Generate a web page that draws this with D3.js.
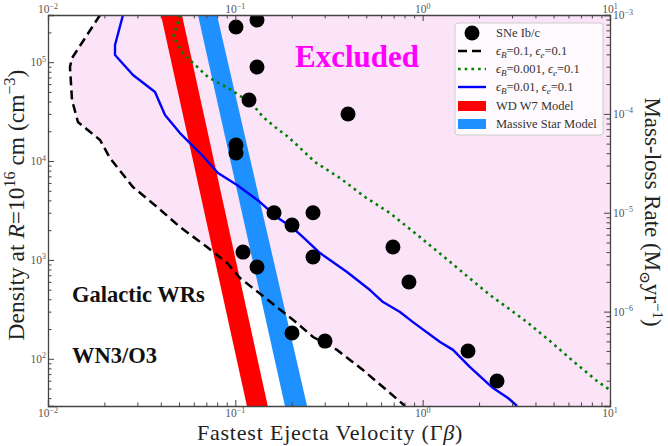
<!DOCTYPE html>
<html><head><meta charset="utf-8">
<script src="https://cdn.jsdelivr.net/npm/d3@7/dist/d3.min.js"></script>
<style>
body{margin:0;background:#fff}
svg{display:block}
text{font-family:"Liberation Serif","DejaVu Serif",serif}
</style>
</head><body>
<svg id="c" width="668" height="446"></svg>
<script>
// ---------- data ----------
const xMajor = [1e-2, 1e-1, 1e0, 1e1];
const xMajorExp = ["−2", "−1", "0", "1"];
const yMajor = [1e2, 1e3, 1e4, 1e5];
const yMajorExp = ["2", "3", "4", "5"];
const y2Major = [1e-6, 1e-5, 1e-4, 1e-3];
const y2MajorExp = ["−6", "−5", "−4", "−3"];

// SNe Ib/c (velocity Γβ, density cm^-3)
const snV   = [0.1008, 0.1305, 0.1305, 0.1183, 0.3995, 0.1008, 0.1008, 0.1609, 0.2007, 0.2598, 0.2598, 0.1099, 0.1305, 0.694, 0.845, 0.2007, 0.301, 1.746, 2.494];
const snRho = [2.27e5, 2.67e5, 8.93e4, 4.14e4, 2.99e4, 1.45e4, 1.205e4, 3.0e3, 2.25e3, 3.0e3, 1.07e3, 1.20e3, 847, 1.35e3, 597, 182, 151, 120, 59.6];

// eps_B=0.1, eps_e=0.1 (dashed)
const dashV   = [0.01896, 0.01343, 0.0131, 0.01343, 0.01445, 0.01896, 0.0214, 0.0284, 0.0382, 0.0507, 0.0706, 0.0903, 0.106, 0.1494, 0.2133, 0.260, 0.349, 0.480, 0.614, 0.805];
const dashRho = [3.0e5, 1.10e5, 8.93e4, 4.14e4, 2.48e4, 1.632e4, 1.073e4, 5.46e3, 3.43e3, 2.15e3, 1.35e3, 930, 656, 393, 230, 166, 123, 76.9, 51.8, 33.3];

// eps_B=0.001, eps_e=0.1 (dotted)
const dotV   = [0.0507, 0.0488, 0.0465, 0.0488, 0.0519, 0.0587, 0.0714, 0.0914, 0.1085, 0.1243, 0.1405, 0.1628, 0.1887, 0.2161, 0.2662, 0.362, 0.4922, 0.669, 0.968, 1.284, 1.725, 2.288, 2.855, 3.606, 4.784, 6.346, 8.524, 10];
const dotRho = [3.0e5, 2.376e5, 1.797e5, 1.562e5, 1.267e5, 1.004e5, 7.08e4, 5.48e4, 4.44e4, 3.69e4, 2.79e4, 2.21e4, 1.79e4, 1.419e4, 9.77e3, 6.73e3, 4.33e3, 2.98e3, 1.70e3, 1.094e3, 687, 441, 326, 235, 151, 94.9, 59.6, 48.3];

// eps_B=0.01, eps_e=0.1 (solid)
const solV   = [0.02514, 0.02279, 0.02279, 0.02843, 0.03726, 0.04213, 0.05064, 0.0609, 0.0648, 0.0808, 0.1021, 0.1354, 0.1690, 0.2032, 0.2298, 0.2831, 0.3946, 0.5235, 0.6142, 0.7568, 0.888, 1.238, 1.452, 1.789, 2.374, 2.855, 3.188];
const solRho = [3.0e5, 1.491e5, 1.181e5, 7.42e4, 4.99e4, 2.92e4, 1.92e4, 1.354e4, 1.205e4, 7.56e3, 5.72e3, 3.85e3, 2.65e3, 2.10e3, 1.70e3, 1.174e3, 754, 496, 375, 297, 235, 148, 123, 82.5, 50.6, 40.1, 33.3];

// model bands: edges at density top / bottom
const bandRho   = [3.0e5, 33.3];
const wdLeftV   = [0.0401, 0.1153];
const wdRightV  = [0.0519, 0.149];
const msLeftV   = [0.0632, 0.184];
const msRightV  = [0.0798, 0.2415];

// ---------- layout ----------
const svg = d3.select("#c");
const L = 48, R = 610, T = 15, B = 406;
const x  = d3.scaleLog().domain([1e-2, 1e1]).range([L, R]);
const y  = d3.scaleLog().domain([33.3, 3.0e5]).range([B, T]);
const y2 = d3.scaleLog().domain([1.11e-7, 1e-3]).range([B, T]);

svg.append("defs").append("clipPath").attr("id", "clip")
  .append("rect").attr("x", L).attr("y", T).attr("width", R - L).attr("height", B - T);

const plot = svg.append("g").attr("clip-path", "url(#clip)");
const line = d3.line().x(d => x(d[0])).y(d => y(d[1]));
const zip = (a, b) => a.map((v, i) => [v, b[i]]);

// excluded region fill
const dMin = y.domain()[0], dMax = y.domain()[1];
const fillPts = zip(dashV, dashRho).concat([[1e1, dMin], [1e1, dMax]]);
plot.append("path").attr("d", line(fillPts) + "Z").attr("fill", "#fbe4f8").attr("stroke", "none");

// bands
function band(lv, rv, col) {
  const pts = [[lv[0], bandRho[0]], [rv[0], bandRho[0]], [rv[1], bandRho[1]], [lv[1], bandRho[1]]];
  plot.append("path").attr("d", line(pts) + "Z").attr("fill", col);
}
band(wdLeftV, wdRightV, "#ff0000");
band(msLeftV, msRightV, "#1e90ff");

// curves
plot.append("path").attr("d", line(zip(solV, solRho))).attr("fill", "none")
  .attr("stroke", "#0000ff").attr("stroke-width", 2.4).attr("stroke-linejoin", "round");
plot.append("path").attr("d", line(zip(dotV, dotRho))).attr("fill", "none")
  .attr("stroke", "#008000").attr("stroke-width", 2.6).attr("stroke-dasharray", "2.6,4.1");
plot.append("path").attr("d", line(zip(dashV, dashRho))).attr("fill", "none")
  .attr("stroke", "#000").attr("stroke-width", 2.5).attr("stroke-dasharray", "9,5");

// points
plot.selectAll("circle.sn").data(zip(snV, snRho)).enter().append("circle")
  .attr("cx", d => x(d[0])).attr("cy", d => y(d[1])).attr("r", 7.5).attr("fill", "#000");

// ---------- axes ----------
const axCol = "#444";
function minors(lo, hi) {
  const out = [];
  for (let e = Math.floor(Math.log10(lo)); e <= Math.ceil(Math.log10(hi)); e++)
    for (let k = 2; k <= 9; k++) { const v = k * Math.pow(10, e); if (v >= lo && v <= hi) out.push(v); }
  return out;
}
function drawAxis(gen, scale, majors, tx, ty) {
  const g1 = svg.append("g").attr("transform", `translate(${tx},${ty})`)
    .call(gen(scale).tickValues(majors).tickSize(-6).tickFormat(""));
  const g2 = svg.append("g").attr("transform", `translate(${tx},${ty})`)
    .call(gen(scale).tickValues(minors(...scale.domain())).tickSize(-3.5).tickFormat(""));
  g2.select(".domain").remove();
  [g1, g2].forEach(g => { g.selectAll("line").attr("stroke", axCol).attr("stroke-width", 1);
                         g.select(".domain").attr("stroke", axCol).attr("stroke-width", 1.3); });
}
drawAxis(d3.axisBottom, x, xMajor, 0, B);
drawAxis(d3.axisTop, x, xMajor, 0, T);
drawAxis(d3.axisLeft, y, yMajor, L, 0);
drawAxis(d3.axisRight, y2, y2Major, R, 0);

function pow10(px, py, exp, anchor) {
  const t = svg.append("text").attr("x", px).attr("y", py).attr("text-anchor", anchor)
    .attr("fill", "#555").attr("font-size", 11.5);
  t.append("tspan").text("10");
  t.append("tspan").attr("dy", -4.5).attr("font-size", 8).text(exp);
  return t;
}
xMajor.forEach((v, i) => { pow10(x(v), B + 11, xMajorExp[i], "middle"); pow10(x(v), T - 2, xMajorExp[i], "middle"); });
yMajor.forEach((v, i) => pow10(L - 2, y(v) + 4, yMajorExp[i], "end"));
y2Major.forEach((v, i) => pow10(R + 3, y2(v) + 4, y2MajorExp[i], "start"));

// axis titles
const xt = svg.append("text").attr("x", 330).attr("y", 440).attr("text-anchor", "middle")
  .attr("font-size", 22).attr("letter-spacing", 0.8).attr("fill", "#222");
xt.append("tspan").text("Fastest Ejecta Velocity (Γ");
xt.append("tspan").attr("font-style", "italic").text("β");
xt.append("tspan").text(")");

const yt = svg.append("text").attr("transform", "translate(24,205) rotate(-90)")
  .attr("text-anchor", "middle").attr("font-size", 23.5).attr("fill", "#222");
yt.append("tspan").text("Density at ");
yt.append("tspan").attr("font-style", "italic").text("R");
yt.append("tspan").text("=10");
yt.append("tspan").attr("dy", -9).attr("font-size", 16).text("16");
yt.append("tspan").attr("dy", 9).text(" cm (cm");
yt.append("tspan").attr("dy", -9).attr("font-size", 16).text("−3");
yt.append("tspan").attr("dy", 9).text(")");

const rt = svg.append("text").attr("transform", "translate(645,212) rotate(90)")
  .attr("text-anchor", "middle").attr("font-size", 23).attr("fill", "#222");
rt.append("tspan").text("Mass-loss Rate (M");
rt.append("tspan").attr("dy", 5).attr("font-size", 15).text("⊙");
rt.append("tspan").attr("dy", -5).text("yr");
rt.append("tspan").attr("dy", -8).attr("font-size", 15).text("−1");
rt.append("tspan").attr("dy", 8).text(")");

// annotations
svg.append("text").attr("x", 357).attr("y", 67).attr("text-anchor", "middle")
  .attr("font-size", 31).attr("font-weight", "bold").attr("fill", "#ff00ff").text("Excluded");
svg.append("text").attr("x", 72).attr("y", 302).attr("font-size", 22.5).attr("font-weight", "bold")
  .attr("fill", "#111").text("Galactic WRs");
svg.append("text").attr("x", 72).attr("y", 363).attr("font-size", 22.5).attr("font-weight", "bold")
  .attr("fill", "#111").text("WN3/O3");

// ---------- legend ----------
const lg = svg.append("g");
lg.append("rect").attr("x", 455).attr("y", 23).attr("width", 148).attr("height", 112).attr("rx", 3)
  .attr("fill", "#fff").attr("fill-opacity", 0.8).attr("stroke", "#ccc").attr("stroke-width", 1);
const rows = [33, 51, 69, 87, 106, 124];
const lx0 = 458, lx1 = 486, tx0 = 496;
lg.append("circle").attr("cx", 472).attr("cy", rows[0]).attr("r", 7.5).attr("fill", "#000");
lg.append("line").attr("x1", lx0).attr("x2", lx1).attr("y1", rows[1]).attr("y2", rows[1])
  .attr("stroke", "#000").attr("stroke-width", 2.5).attr("stroke-dasharray", "9,5");
lg.append("line").attr("x1", lx0).attr("x2", lx1).attr("y1", rows[2]).attr("y2", rows[2])
  .attr("stroke", "#008000").attr("stroke-width", 2.6).attr("stroke-dasharray", "2.6,4.1");
lg.append("line").attr("x1", lx0).attr("x2", lx1).attr("y1", rows[3]).attr("y2", rows[3])
  .attr("stroke", "#0000ff").attr("stroke-width", 2.4);
lg.append("rect").attr("x", lx0).attr("y", rows[4] - 5).attr("width", lx1 - lx0).attr("height", 10).attr("fill", "#ff0000");
lg.append("rect").attr("x", lx0).attr("y", rows[5] - 5).attr("width", lx1 - lx0).attr("height", 10).attr("fill", "#1e90ff");

function legText(yy, parts) {
  const t = lg.append("text").attr("x", tx0).attr("y", yy + 4).attr("font-size", 12.5).attr("fill", "#333");
  parts.forEach(p => {
    const s = t.append("tspan").text(p[0]);
    if (p[1] === "i") s.attr("font-style", "italic");
    if (p[1] === "sub") s.attr("font-style", "italic").attr("font-size", 9).attr("dy", 3);
    if (p[1] === "back") s.attr("dy", -3);
  });
}
legText(rows[0], [["SNe Ib/c"]]);
function epsParts(b) { return [["ϵ", "i"], ["B", "sub"], ["=" + b + ", ", "back"], ["ϵ", "i"], ["e", "sub"], ["=0.1", "back"]]; }
legText(rows[1], epsParts("0.1"));
legText(rows[2], epsParts("0.001"));
legText(rows[3], epsParts("0.01"));
legText(rows[4], [["WD W7 Model"]]);
legText(rows[5], [["Massive Star Model"]]);
</script>
</body></html>
